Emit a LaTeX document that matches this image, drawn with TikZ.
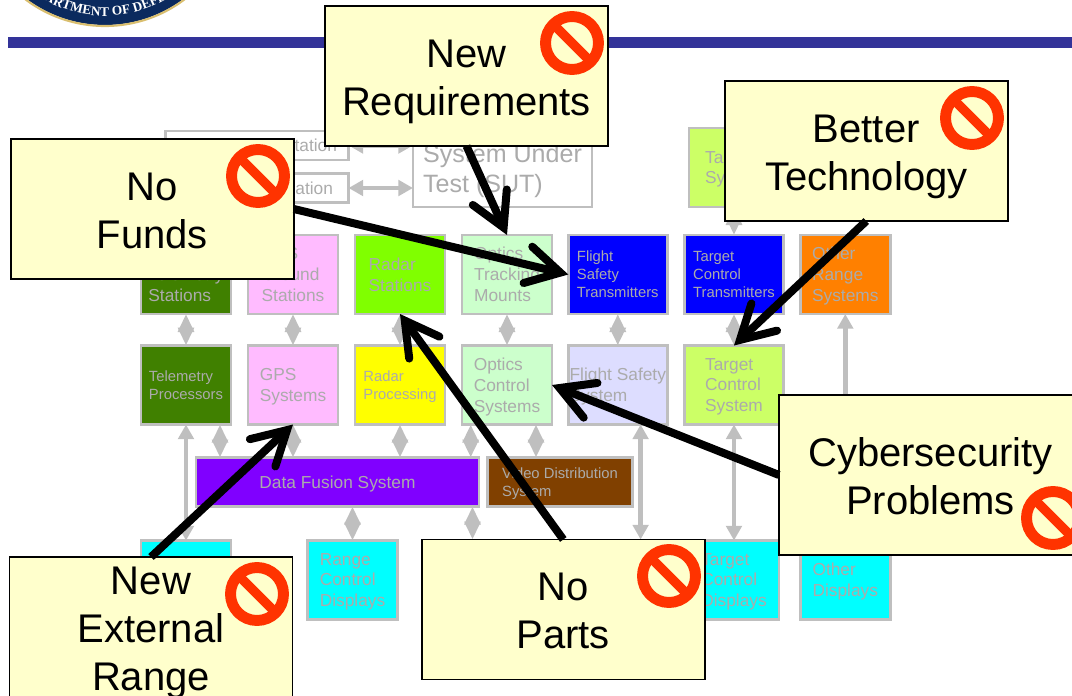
\documentclass[tikz,border=0pt]{standalone}
\usepackage{fontspec}
\setmainfont{Liberation Sans}
\newfontfamily\sealfont{Liberation Serif}
\usetikzlibrary{arrows.meta,backgrounds,decorations.text}
\definecolor{barblue}{HTML}{333399}
\definecolor{sealnavy}{HTML}{0B2A5E}
\definecolor{sealgold}{HTML}{D9BE6E}
\definecolor{sysgray}{HTML}{BFBFBF}
\definecolor{systext}{HTML}{ABABAB}
\definecolor{calloutfill}{HTML}{FFFFCC}
\definecolor{signred}{HTML}{FF3300}
\definecolor{telegreen}{HTML}{408000}
\definecolor{gpspink}{HTML}{FFBBFF}
\definecolor{radargreen}{HTML}{80FF00}
\definecolor{opticsgreen}{HTML}{CCFFCC}
\definecolor{xmitblue}{HTML}{0000FF}
\definecolor{rangeorange}{HTML}{FF8000}
\definecolor{procyellow}{HTML}{FFFF00}
\definecolor{flightlilac}{HTML}{DDDDFF}
\definecolor{targetlime}{HTML}{CCFF66}
\definecolor{fusionpurple}{HTML}{8000FF}
\definecolor{videobrown}{HTML}{804000}
\definecolor{displaycyan}{HTML}{00FFFF}
\tikzset{
  sized/.style 2 args={minimum width=#1*0.75pt,minimum height=#2*0.75pt},
  sysbox/.style={draw=sysgray,line width=1.9pt,inner sep=0pt,outer sep=0pt,align=left,text=systext,text depth=-1.5pt,font=\fontsize{13}{15.6}\selectfont},
  smalltext/.style={font=\fontsize{11.1}{13.5}\selectfont},
  stationbox/.style={sysbox,sized={183}{29},fill=white,text width=120pt,inner xsep=8.6pt,align=right},
  callout/.style={draw=black,line width=1.2pt,fill=calloutfill,outer sep=0pt,align=center,sized={283}{140},text height=58.5pt,text depth=0pt,font=\fontsize{30}{36}\selectfont},
  graylink/.style={draw=sysgray,line width=3.6pt,{Triangle[length=11pt,width=11.6pt]}-{Triangle[length=11pt,width=11.6pt]}},
  diamondlink/.style={draw=sysgray,line width=3.6pt,{Triangle[length=13.5pt,width=11.6pt]}-{Triangle[length=13.5pt,width=11.6pt]}},
  bigarrow/.style={draw=black,line width=6pt,-{Straight Barb[length=25pt,width=28pt,line cap=round,line join=miter]}},
  nosign/.style={draw=signred,line width=8.2pt}
}
\begin{document}
\begin{tikzpicture}[x=0.75pt,y=-0.75pt]
  \useasboundingbox (0,0) rectangle (1072,696);
  \clip (0,0) rectangle (1072,696);

  % Seal and title bar
  \fill[sealnavy] (105,-106) circle[radius=131];
  \draw[sealgold,line width=1.6pt] (105,-106) circle[radius=132];
  \path[decorate,decoration={text along path,text align=center,
      text={|\sealfont\bfseries\fontsize{10}{12}\selectfont\color{white}|DEPARTMENT OF DEFENSE}}]
      (105,-106) ++(150:122) arc[start angle=150,end angle=30,radius=122];
  \fill[barblue] (8,37) rectangle (1072,48);

  % System under test and its stations
  \node[sysbox,sized={179}{77},fill=white,font=\fontsize{18.8}{22.5}\selectfont] (sut) at (502.5,168.5) {System Under\\Test (SUT)};
  \node[stationbox] (stationa) at (257,145.5) {tation};
  \node[stationbox] (stationb) at (257,188) {ation\hspace*{3pt}};
  \node[sysbox,sized={90}{79},fill=targetlime] (tgtsys) at (734,167.5) {Target\\System};

  % Top row
  \node[sysbox,sized={90}{79},fill=telegreen] (telstat) at (186,274.5) {\vphantom{T}\\Telemetry\\Stations};
  \node[sysbox,sized={90}{79},fill=gpspink] (gpsstat) at (293,274.5) {GPS\\Ground\\Stations};
  \node[sysbox,sized={90}{79},fill=radargreen] (radstat) at (400,274.5) {Radar\\Stations};
  \node[sysbox,sized={90}{79},fill=opticsgreen] (optmount) at (507,274.5) {Optics\\Tracking\\Mounts};
  \node[sysbox,smalltext,sized={99}{79},fill=xmitblue] (fltrans) at (617.8,274.5) {Flight\\Safety\\Transmitters};
  \node[sysbox,smalltext,sized={99}{79},fill=xmitblue] (tgtrans) at (734,274.5) {Target\\Control\\Transmitters};
  \node[sysbox,sized={90}{79},fill=rangeorange] (othrange) at (845.3,274.5) {Other\\Range\\Systems};

  % Middle row
  \node[sysbox,smalltext,sized={90}{79},fill=telegreen] (telproc) at (186,385) {Telemetry\\Processors};
  \node[sysbox,sized={90}{79},fill=gpspink] (gpssys) at (293,385) {GPS\\Systems};
  \node[sysbox,smalltext,sized={90}{79},fill=procyellow] (radproc) at (400,385) {Radar\\Processing};
  \node[sysbox,sized={90}{79},fill=opticsgreen] (optsys) at (507,385) {Optics\\Control\\Systems};
  \node[sysbox,sized={99}{79},fill=flightlilac] (flsys) at (617.8,385) {Flight Safety\\System};
  \node[sysbox,sized={99}{79},fill=targetlime] (tgtctrl) at (734,385) {Target\\Control\\System};

  % Fusion and video
  \node[sysbox,sized={283}{49},fill=fusionpurple] (fusion) at (337.5,482) {Data Fusion System};
  \node[sysbox,smalltext,sized={145}{49},fill=videobrown] (video) at (560,482) {Video Distribution\\System};

  % Displays
  \node[sysbox,sized={90}{79},fill=displaycyan] (teldisp) at (186,580) {};
  \node[sysbox,sized={90}{79},fill=displaycyan] (rngdisp) at (352.5,580) {Range\\Control\\Displays};
  \node[sysbox,sized={90}{79},fill=displaycyan] (tgtdisp) at (734,580) {Target\\Control\\Displays};
  \node[sysbox,sized={90}{79},fill=displaycyan] (othdisp) at (845.3,580) {Other\\Displays};

  % Callouts
  \node[callout] (newreq) at (466.5,76) {New\\Requirements};
  \node[callout] (nofunds) at (152.3,209) {No\\Funds};
  \node[callout] (bettertech) at (866.3,151) {Better\\Technology};
  \node[callout,sized={303}{160}] (cyber) at (930.5,475) {Cybersecurity\\Problems};
  \node[callout] (noparts) at (563.3,609.5) {No\\Parts};
  \node[callout,sized={283}{142},text height=93pt] (newext) at (151,628) {New\\External\\Range};

  % Gray links
  \begin{pgfonlayer}{background}
    \draw[graylink] (stationa.east) -- (sut.west |- stationa.east);
    \draw[graylink] (stationb.east) -- (sut.west |- stationb.east);
    \draw[diamondlink] (tgtsys.south) -- (tgtrans.north);
    \draw[diamondlink] (telstat.south) -- (telproc.north);
    \draw[diamondlink] (gpsstat.south) -- (gpssys.north);
    \draw[diamondlink] (radstat.south) -- (radproc.north);
    \draw[diamondlink] (optmount.south) -- (optsys.north);
    \draw[diamondlink] (fltrans.south) -- (flsys.north);
    \draw[diamondlink] (tgtrans.south) -- (tgtctrl.north);
    \draw[graylink] (othrange.south) -- (othdisp.north);
    \draw[graylink] (telproc.south) -- (teldisp.north);
    \draw[diamondlink] (220,0 |- telproc.south) -- (220,0 |- fusion.north);
    \draw[diamondlink] (gpssys.south) -- (293,0 |- fusion.north);
    \draw[diamondlink] (radproc.south) -- (400,0 |- fusion.north);
    \draw[diamondlink] (470.7,0 |- optsys.south) -- (470.7,0 |- fusion.north);
    \draw[diamondlink] (536,0 |- optsys.south) -- (536,0 |- video.north);
    \draw[graylink] (640.6,0 |- flsys.south) -- (640.6,0 |- noparts.north);
    \draw[graylink] (tgtctrl.south) -- (tgtdisp.north);
    \draw[diamondlink] (352.5,0 |- fusion.south) -- (rngdisp.north);
    \draw[diamondlink] (472.5,0 |- fusion.south) -- (472.5,0 |- noparts.north);
  \end{pgfonlayer}

  % Black arrows
  \draw[bigarrow] (newreq.south) -- (optmount.north);
  \draw[bigarrow] (nofunds.east) -- (fltrans.west);
  \draw[bigarrow] (bettertech.south) -- (tgtctrl.north);
  \draw[bigarrow] (cyber.west) -- (optsys.east);
  \draw[bigarrow] (noparts.north) -- (radstat.south);
  \draw[bigarrow] (newext.north) -- (gpssys.south);

  % No signs
  \foreach \sx/\sy in {258/176,572/43,972/118,257/594,669/576,1053/518}{
    \draw[nosign] (\sx,\sy) circle[radius=26.5];
    \draw[nosign,line width=7pt] (\sx-19,\sy-19) -- (\sx+19,\sy+19);
  }
\end{tikzpicture}
\end{document}
